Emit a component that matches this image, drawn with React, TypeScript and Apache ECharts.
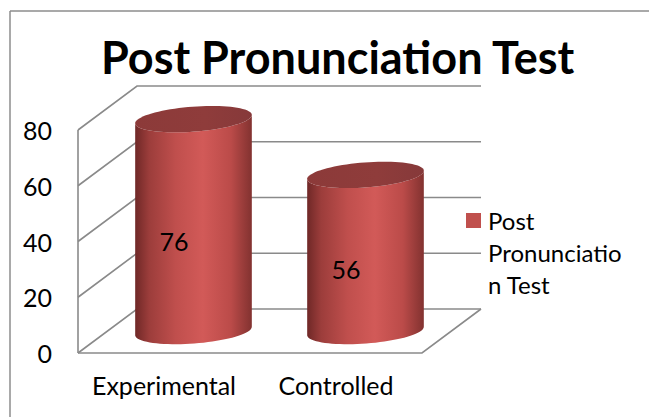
import React, { useEffect, useRef } from 'react';
import * as echarts from 'echarts';

const titleText = 'Post Pronunciation Test';
const seriesName = 'Post Pronunciation Test';
const categories = ['Experimental', 'Controlled'];
const values = [76, 56];
const yTicks = [0, 20, 40, 60, 80];
const legendLines = ['Post', 'Pronunciatio', 'n Test'];

const FONT = 'Lato, "Open Sans", sans-serif';
const DX = 59;
const DY = -44;
const GRID_COLOR = '#8a8a8a';

export default function App() {
  const ref = useRef<HTMLDivElement>(null);
  useEffect(() => {
    document.body.style.margin = '0';
    const chart = echarts.init(ref.current!, null, { renderer: 'svg' });

    const ell = (cx: number, cy: number, rx: number, ry: number, th: number, t0: number, t1: number, n: number) => {
      const pts: number[][] = [];
      for (let k = 0; k <= n; k++) {
        const t = t0 + ((t1 - t0) * k) / n;
        const a = rx * Math.cos(t);
        const b = ry * Math.sin(t);
        pts.push([cx + a * Math.cos(th) + b * Math.sin(th), cy - a * Math.sin(th) + b * Math.cos(th)]);
      }
      return pts;
    };

    const wallRender = (params: any, api: any) => {
      const cs = params.coordSys;
      const L = cs.x;
      const R = cs.x + cs.width;
      const children: any[] = [];
      const style = { stroke: GRID_COLOR, lineWidth: 1.6, fill: null };
      const y0 = api.coord([0, yTicks[0]])[1];
      const yTop = api.coord([0, yTicks[yTicks.length - 1]])[1];
      yTicks.forEach((v) => {
        const y = api.coord([0, v])[1];
        children.push({
          type: 'polyline',
          shape: { points: [[L, y], [L + DX, y + DY], [R + DX, y + DY]] },
          style,
        });
      });
      children.push({ type: 'line', shape: { x1: L, y1: yTop, x2: L, y2: y0 }, style });
      children.push({
        type: 'polyline',
        shape: { points: [[L, y0], [R, y0], [R + DX, y0 + DY]] },
        style,
      });
      return { type: 'group', children, silent: true };
    };

    const cylRender = (params: any, api: any) => {
      const i = api.value(0);
      const v = api.value(1);
      const top = api.coord([i, v]);
      const base = api.coord([i, 0]);
      const band = api.size([1, 0])[0];
      const cx = top[0] + DX / 2;
      const topY = top[1] + DY / 2;
      const baseY = base[1] + DY / 2;
      const rx = (band * 0.68) / 2;
      const ry = 12.5;
      const th = 0.075;
      const body = [
        ...ell(cx, topY, rx, ry, th, 0, Math.PI, 40),
        ...ell(cx, baseY, rx, ry, th, Math.PI, 0, 40),
      ];
      const topPts = ell(cx, topY, rx, ry, th, 0, Math.PI * 2, 80);
      return {
        type: 'group',
        children: [
          {
            type: 'polygon',
            shape: { points: body },
            style: {
              fill: {
                type: 'linear', x: 0, y: 0, x2: 1, y2: 0,
                colorStops: [
                  { offset: 0, color: '#6f2827' },
                  { offset: 0.12, color: '#9c3d3b' },
                  { offset: 0.35, color: '#c04f4d' },
                  { offset: 0.58, color: '#d25a58' },
                  { offset: 0.82, color: '#bb4b49' },
                  { offset: 1, color: '#823230' },
                ],
              },
            },
          },
          {
            type: 'polygon',
            shape: { points: topPts },
            style: {
              fill: {
                type: 'linear', x: 0, y: 0, x2: 1, y2: 0,
                colorStops: [
                  { offset: 0, color: '#8c3a39' },
                  { offset: 0.6, color: '#8f3c3b' },
                  { offset: 1, color: '#86393a' },
                ],
              },
            },
          },
          {
            type: 'text',
            x: base[0] + 10,
            y: (top[1] + base[1]) / 2 - 6,
            style: {
              text: String(v),
              fontSize: 25,
              fontFamily: FONT,
              fill: '#000',
              align: 'center',
              verticalAlign: 'middle',
            },
          },
        ],
      };
    };

    chart.setOption({
      animation: false,
      backgroundColor: '#fff',
      title: {
        text: titleText,
        left: 96,
        top: 29,
        textStyle: { fontSize: 45, fontWeight: 'bold', fontFamily: FONT, color: '#000' },
      },
      grid: { left: 78, top: 130, width: 344, height: 223, containLabel: false },
      xAxis: {
        type: 'category',
        data: categories,
        axisLine: { show: false },
        axisTick: { show: false },
        splitLine: { show: false },
        axisLabel: { fontSize: 25, fontFamily: FONT, color: '#000', margin: 19, interval: 0 },
      },
      yAxis: {
        type: 'value',
        min: 0,
        max: 80,
        interval: 20,
        axisLine: { show: false },
        axisTick: { show: false },
        splitLine: { show: false },
        axisLabel: { fontSize: 25, fontFamily: FONT, color: '#000', margin: 26 },
      },
      series: [
        {
          type: 'custom',
          name: 'walls',
          renderItem: wallRender,
          data: [[0, 0]],
          z: 1,
          silent: true,
        },
        {
          type: 'custom',
          name: seriesName,
          renderItem: cylRender,
          data: values.map((v, i) => [i, v]),
          z: 2,
        },
      ],
      graphic: [
        { type: 'line', shape: { x1: 10, y1: 11, x2: 649, y2: 11 }, style: { stroke: '#8c8c8c', lineWidth: 1.5 } },
        { type: 'line', shape: { x1: 10, y1: 11, x2: 10, y2: 417 }, style: { stroke: '#8c8c8c', lineWidth: 1.5 } },
        { type: 'rect', shape: { x: 466, y: 213, width: 15, height: 15 }, style: { fill: '#c0504d' } },
        {
          type: 'text',
          x: 488,
          y: 204,
          style: {
            text: legendLines.join('\n'),
            fontSize: 24,
            lineHeight: 32,
            fontFamily: FONT,
            fill: '#000',
            align: 'left',
            verticalAlign: 'top',
          },
        },
      ],
    });
    return () => chart.dispose();
  }, []);
  return <div ref={ref} style={{ width: 649, height: 417 }} />;
}
